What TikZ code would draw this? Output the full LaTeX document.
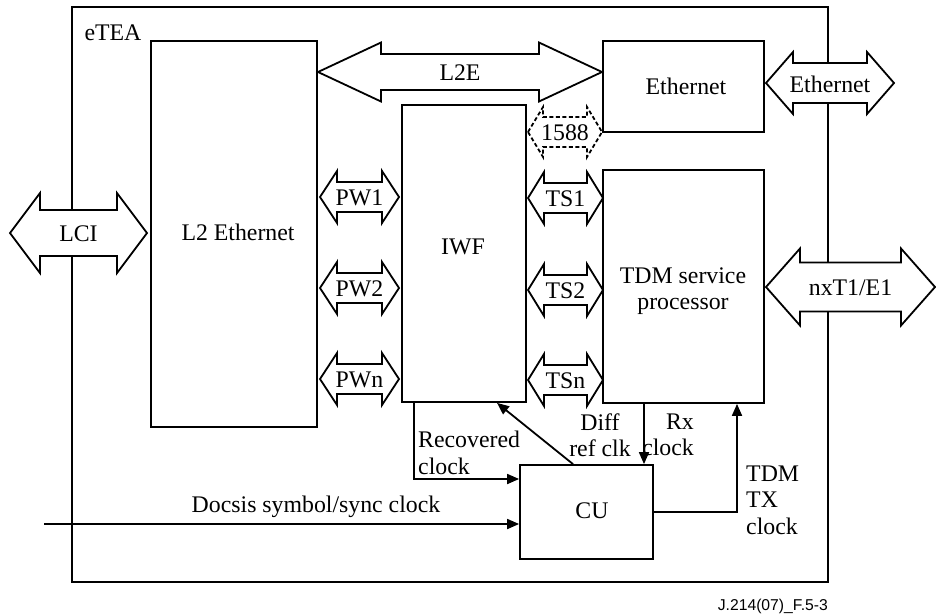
\documentclass[tikz,border=0pt]{standalone}
\usepackage{fontspec}
\setmainfont{Liberation Serif}
\newfontfamily\footfont{Liberation Sans}
\usetikzlibrary{arrows.meta}
\tikzset{
  lw/.style={line width=1.8pt},
  box/.style={draw, lw, rectangle, inner sep=0pt, fill=white},
  dshape/.style={draw, lw, fill=white, line join=miter},
  dsh/.style={dash pattern=on 4pt off 2.5pt},
  clk/.style={lw, -{Triangle[length=12pt,width=10pt]}},
  lbl/.style={inner sep=0pt, font=\fontsize{23.8}{26.5}\selectfont},
}
% name, x1, x2, y, shaft half, head half, head length, style, label
\newcommand{\dblarr}[9]{%
  \draw[dshape,#8] (#2,#4) -- (#2+#7,#4-#6) -- (#2+#7,#4-#5) -- (#3-#7,#4-#5) -- (#3-#7,#4-#6) -- (#3,#4)
    -- (#3-#7,#4+#6) -- (#3-#7,#4+#5) -- (#2+#7,#4+#5) -- (#2+#7,#4+#6) -- cycle;
  \node[lbl] (#1) at ({(#2+#3)/2},#4+1) {#9};
}
\begin{document}
\begin{tikzpicture}[x=1pt,y=-1pt]
\useasboundingbox (0,0) rectangle (936,614);
% outer box
\node[draw, lw, rectangle, inner sep=0pt, minimum width=756pt, minimum height=575pt] (etea) at (450,294.5) {};
\node[lbl] (eteat) at (113,33) {eTEA};
% blocks
\node[box, minimum width=166pt, minimum height=386pt] (l2) at (234,234) {};
\node[lbl] at (238,232) {L2 Ethernet};
\node[box, minimum width=124pt, minimum height=297pt] (iwf) at (464,253.5) {};
\node[lbl] at (463,247) {IWF};
\node[box, minimum width=161pt, minimum height=91pt] (eth) at (683.5,86.5) {};
\node[lbl] at (686,86) {Ethernet};
\node[box, minimum width=161pt, minimum height=233pt] (tdm) at (683.5,286.5) {};
\node[lbl, align=center] at (683,291) {TDM service\\processor};
\node[box, minimum width=133pt, minimum height=94pt] (cu) at (586.5,512) {};
\node[lbl] at (592,511) {CU};
% double arrows
\dblarr{l2e}{318}{602}{72}{18}{29.5}{63}{}{L2E}
\dblarr{p1588}{528}{602}{132}{15}{25}{15}{dsh}{1588}
\dblarr{ethx}{766}{894}{83}{20}{31}{27}{}{Ethernet}
\dblarr{nxt}{766}{935}{287}{24.5}{38.5}{34}{}{nxT1/E1}
\dblarr{lci}{10}{147}{233}{23}{40}{30}{}{LCI}
\dblarr{pw1}{320}{399}{197}{15}{26}{17}{}{PW1}
\dblarr{pw2}{320}{399}{288}{15}{26}{17}{}{PW2}
\dblarr{pwn}{320}{399}{379}{15}{26}{17}{}{PWn}
\dblarr{ts1}{528}{603}{198}{15}{26}{16}{}{TS1}
\dblarr{ts2}{528}{603}{290}{15}{26}{16}{}{TS2}
\dblarr{tsn}{528}{603}{380}{15}{26}{16}{}{TSn}
% clock connectors
\coordinate (ds) at (44,524);
\draw[clk] (iwf.south -| 414,0) |- (cu.west |- 0,479);
\draw[clk] (cu.north -| 573,0) -- (iwf.south -| 497,0);
\draw[clk] (tdm.south -| 644,0) -- (cu.north -| 644,0);
\draw[clk] (cu.east |- 0,512) -| (tdm.south -| 737,0);
\draw[clk] (ds) -- (cu.west |- ds);
% labels
\node[lbl, anchor=west, align=left] (rcl) at (418,453) {Recovered\\clock};
\node[lbl, align=center] (drc) at (600,435) {Diff\\ref clk};
\node[lbl, anchor=east, align=right] (rxl) at (694,435) {Rx\\clock};
\node[lbl, anchor=west, align=left] (txl) at (746,500) {TDM\\TX\\clock};
\node[lbl] (dsl) at (316,507) {Docsis symbol/sync clock};
\node[inner sep=0pt, anchor=east, font=\footfont\fontsize{15.7}{18}\selectfont] (foot) at (828,606) {J.214(07)\_F.5-3};
\end{tikzpicture}
\end{document}
